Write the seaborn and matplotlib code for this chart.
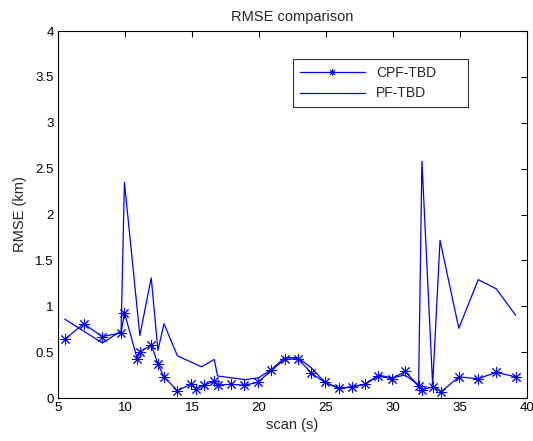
import numpy as np
import pandas as pd
import matplotlib
matplotlib.use("Agg")
import matplotlib.pyplot as plt
import seaborn as sns

# CPF-TBD RMSE per scan
cpf_scan = [5.5, 6.9, 8.3, 9.7, 9.95, 10.9, 11.1, 11.95, 12.45, 12.9, 13.9, 14.9,
            15.3, 15.9, 16.6, 16.9, 17.9, 18.9, 19.9, 20.9, 21.9, 22.9, 23.9, 24.9,
            25.95, 26.9, 27.9, 28.9, 29.9, 30.9, 31.9, 32.15, 32.95, 33.6, 34.9,
            36.35, 37.7, 39.15]
cpf_rmse = [0.64, 0.81, 0.67, 0.71, 0.93, 0.43, 0.50, 0.58, 0.37, 0.23, 0.08, 0.15,
            0.10, 0.14, 0.18, 0.14, 0.15, 0.14, 0.17, 0.30, 0.42, 0.43, 0.27, 0.17,
            0.105, 0.12, 0.15, 0.24, 0.21, 0.29, 0.13, 0.09, 0.12, 0.07, 0.23,
            0.21, 0.28, 0.23]

# PF-TBD RMSE per scan
pf_scan = [5.5, 8.3, 9.7, 9.95, 11.1, 11.95, 12.45, 12.9, 13.9, 15.7, 16.65, 16.9,
           18.95, 19.95, 20.9, 21.9, 22.9, 23.9, 24.9, 25.95, 26.9, 27.9, 28.9, 29.9,
           30.9, 31.9, 32.15, 32.95, 33.5, 34.9, 36.35, 37.7, 39.15]
pf_rmse = [0.86, 0.60, 0.73, 2.35, 0.68, 1.31, 0.52, 0.81, 0.46, 0.34, 0.42, 0.24,
           0.20, 0.22, 0.31, 0.44, 0.44, 0.33, 0.17, 0.11, 0.12, 0.15, 0.25, 0.22,
           0.25, 0.14, 2.58, 0.14, 1.72, 0.76, 1.29, 1.19, 0.90]

xticks = [5, 10, 15, 20, 25, 30, 35, 40]
yticks = [0, 0.5, 1, 1.5, 2, 2.5, 3, 3.5, 4]
ytick_labels = ["0", "0.5", "1", "1.5", "2", "2.5", "3", "3.5", "4"]

cpf_df = pd.DataFrame({"scan": cpf_scan, "rmse": cpf_rmse})
pf_df = pd.DataFrame({"scan": pf_scan, "rmse": pf_rmse})

sns.set_style("white")
plt.rcParams["font.family"] = ["Liberation Sans", "DejaVu Sans"]

fig = plt.figure(figsize=(5.33, 4.41), dpi=100)
ax = fig.add_axes([0.109, 0.0975, 0.88, 0.832])

blue = "#0000ff"
# matlab style '*' marker: 8-spoke asterisk
sns.lineplot(data=cpf_df, x="scan", y="rmse", ax=ax, color=blue, lw=0.9,
             marker=(8, 2, 0), markersize=8, markeredgewidth=0.7,
             markeredgecolor=blue, estimator=None, sort=False, label="CPF-TBD")
sns.lineplot(data=pf_df, x="scan", y="rmse", ax=ax, color=blue, lw=0.9,
             estimator=None, sort=False, label="PF-TBD")

ax.set_xlim(5, 40)
ax.set_ylim(0, 4)
ax.set_xticks(xticks)
ax.set_yticks(yticks)
ax.set_yticklabels(ytick_labels)
ax.tick_params(direction="in", length=4, width=0.8, top=True, right=True,
               labelsize=9.5, colors="black", pad=3)
for sp in ax.spines.values():
    sp.set_color("black")
    sp.set_linewidth(0.8)

ax.set_title("RMSE comparison", fontsize=10.5, pad=7)
ax.set_xlabel("scan (s)", fontsize=10.5, labelpad=3)
ax.set_ylabel("RMSE (km)", fontsize=10.5, labelpad=6)

leg = ax.legend(loc="upper left", bbox_to_anchor=(0.5, 0.79, 0.373, 0.135),
                mode="expand", handlelength=4.7, fontsize=10, frameon=True,
                fancybox=False, borderpad=0.5, labelspacing=0.5,
                handletextpad=0.8, borderaxespad=0, markerscale=0.6)
leg.get_frame().set_edgecolor("black")
leg.get_frame().set_linewidth(0.8)

fig.savefig("out.png", dpi=100, facecolor="white")
